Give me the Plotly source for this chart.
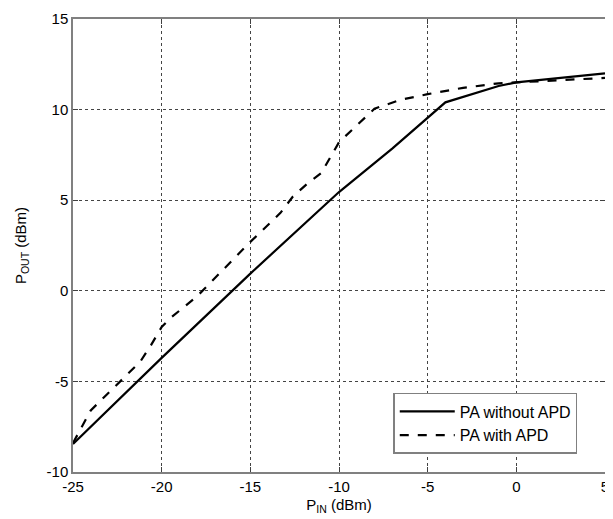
import plotly.graph_objects as go

pin_solid = [-25, -20, -15, -10, -7, -4, -1, 0, 5]
pout_solid = [-8.45, -3.7, 0.95, 5.45, 7.85, 10.4, 11.3, 11.5, 12.0]

pin_dash = [-25, -24, -21.2, -20.6, -20, -19.5, -18, -15, -13.3, -12.6, -11.8, -11, -10, -8, -6.5, -5, -3, -1, 0, 5]
pout_dash = [-8.4, -6.6, -3.9, -3.0, -2.0, -1.5, -0.3, 2.7, 4.3, 5.2, 5.9, 6.5, 8.2, 10.05, 10.55, 10.85, 11.2, 11.45, 11.5, 11.75]

x_ticks = [-25, -20, -15, -10, -5, 0, 5]
x_ticktext = ["-25", "-20", "-15", "-10", "-5", "0", "5"]
y_ticks = [-10, -5, 0, 5, 10, 15]
y_ticktext = ["-10", "-5", "0", "5", "10", "15"]

font = "Liberation Sans, Arial, sans-serif"

fig = go.Figure()
fig.add_trace(go.Scatter(x=pin_solid, y=pout_solid, mode="lines", name="PA without APD",
                         line=dict(color="black", width=2.2)))
fig.add_trace(go.Scatter(x=pin_dash, y=pout_dash, mode="lines", name="PA with APD",
                         line=dict(color="black", width=2.2, dash="dash")))

axis_common = dict(
    showline=True, linecolor="#808080", linewidth=1.5, mirror="ticks",
    ticks="inside", ticklen=5, tickcolor="#404040",
    showgrid=True, gridcolor="#444444", griddash="dot", gridwidth=1,
    zeroline=False, tickfont=dict(family=font, size=15, color="black"),
    automargin=False, ticklabeloverflow="allow",
)

fig.update_xaxes(range=[-25, 5], tickvals=x_ticks, ticktext=x_ticktext, **axis_common,
                 title=dict(text="P<sub>IN</sub> (dBm)", font=dict(family=font, size=15, color="black"), standoff=6))
fig.update_yaxes(range=[-10, 15], tickvals=y_ticks, ticktext=y_ticktext, **axis_common,
                 title=dict(text="P<sub>OUT</sub> (dBm)", font=dict(family=font, size=15, color="black"), standoff=16))

fig.update_layout(
    width=605, height=511,
    margin=dict(l=65, r=8, t=11, b=47),
    paper_bgcolor="white", plot_bgcolor="white",
    showlegend=True,
    legend=dict(x=0.602, y=0.1745, xanchor="left", yanchor="top",
                bgcolor="white", bordercolor="#808080", borderwidth=1.5,
                font=dict(family=font, size=16, color="black"),
                itemwidth=55, entrywidth=125),
)

fig.write_html("out.html")
